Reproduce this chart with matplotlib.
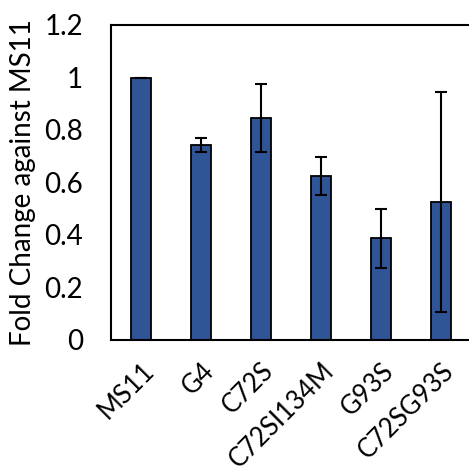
import numpy as np
import matplotlib.pyplot as plt
import matplotlib.transforms as mtransforms

strains = ["MS11", "G4", "C72S", "C72SI134M", "G93S", "C72SG93S"]
fold_change = [1.00, 0.744, 0.845, 0.625, 0.387, 0.526]
errors = [0.0, 0.027, 0.13, 0.072, 0.113, 0.42]

plt.rcParams['font.family'] = ['Lato', 'DejaVu Sans']

fig = plt.figure(figsize=(4.69, 4.72), dpi=100)
# right spine falls just outside the picture, as in the original
ax = fig.add_axes([111 / 469, 1 - 340 / 472, 360 / 469, 315 / 472])

x = np.arange(len(strains))
ax.bar(x, fold_change, width=0.32, color="#2F5597", edgecolor="black", linewidth=1.3,
       yerr=errors, capsize=4.3, error_kw=dict(elinewidth=1.5, capthick=1.5, ecolor="black"))

ax.set_xlim(-0.5, 5.5)
ax.set_ylim(0, 1.2)
ax.set_yticks(np.arange(0, 1.21, 0.2))
ax.set_yticklabels(["0", "0.2", "0.4", "0.6", "0.8", "1", "1.2"], fontsize=20)
ax.set_xticks(x)
ax.set_xticklabels(strains, fontsize=18.5, rotation=45, ha="right", rotation_mode="anchor")
# nudge labels a little right, like Excel does
shift = mtransforms.ScaledTranslation(0.07, 0, fig.dpi_scale_trans)
for lbl in ax.get_xticklabels():
    lbl.set_transform(lbl.get_transform() + shift)
ax.tick_params(axis="y", length=0, pad=20)
ax.tick_params(axis="x", length=0, pad=13)
for s in ax.spines.values():
    s.set_linewidth(1.5)

ax.set_ylabel("Fold Change against MS11", fontsize=20, labelpad=6)

fig.savefig("out.png", dpi=100)
